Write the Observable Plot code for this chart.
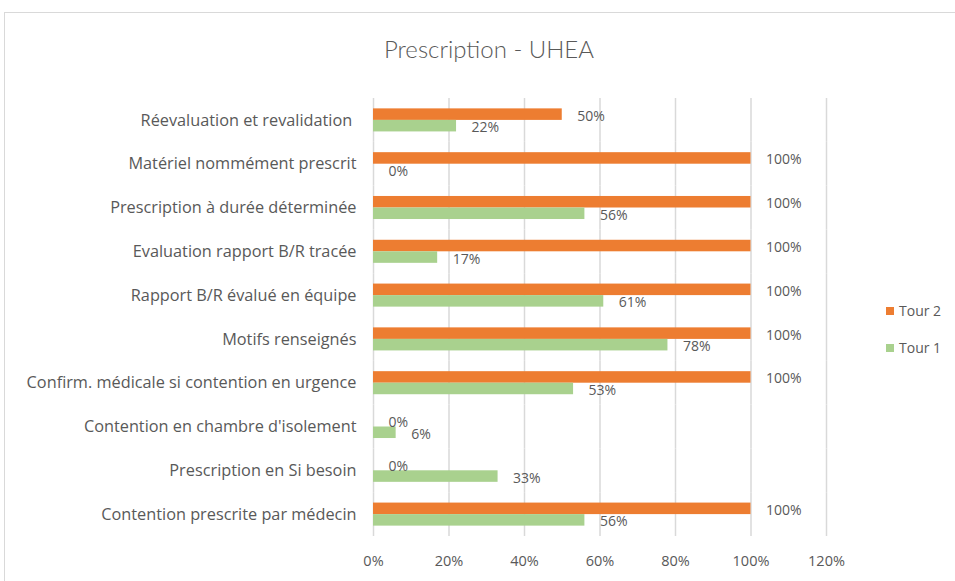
<!DOCTYPE html>
<html>
<head>
<meta charset="utf-8">
<script src="https://cdn.jsdelivr.net/npm/d3@7"></script>
<script src="https://cdn.jsdelivr.net/npm/@observablehq/plot@0.6"></script>
<style>
  html, body { margin: 0; padding: 0; background: #fff; overflow: hidden; }
  #wrap { position: relative; width: 955px; height: 581px; }
  #frame { position: absolute; left: 4px; top: 12px; width: 1000px; height: 600px; border: 1px solid #d9d9d9; box-sizing: border-box; }
  #title { position: absolute; left: 0; width: 978px; top: 34px; text-align: center; font-family: Lato, sans-serif; font-weight: 300; font-size: 24px; color: #595959; }
  #chart { position: absolute; left: 0; top: 0; }
  .leg { position: absolute; font-family: "Open Sans", sans-serif; font-size: 14px; color: #595959; display: flex; align-items: center; }
  .sw { width: 8px; height: 8px; margin-right: 5px; }
</style>
</head>
<body>
<div id="wrap">
  <div id="frame"></div>
  <div id="chart"></div>
  <div id="title"></div>
  <div id="legend"></div>
</div>
<script>
const title = "Prescription - UHEA";
const categories = [
  "Réevaluation et revalidation ",
  "Matériel nommément prescrit",
  "Prescription à durée déterminée",
  "Evaluation rapport B/R tracée",
  "Rapport B/R évalué en équipe",
  "Motifs renseignés",
  "Confirm. médicale si contention en urgence",
  "Contention en chambre d'isolement",
  "Prescription en Si besoin",
  "Contention prescrite par médecin"
];
const seriesNames = ["Tour 2", "Tour 1"];
const seriesColors = ["#ED7D31", "#A9D18E"];
const tour2 = [0.50, 1.00, 1.00, 1.00, 1.00, 1.00, 1.00, 0.00, 0.00, 1.00];
const tour1 = [0.22, 0.00, 0.56, 0.17, 0.61, 0.78, 0.53, 0.06, 0.33, 0.56];
const xTicks = [0, 0.2, 0.4, 0.6, 0.8, 1.0, 1.2];

const data = [];
categories.forEach((c, i) => {
  data.push({cat: c, series: seriesNames[0], value: tour2[i]});
  data.push({cat: c, series: seriesNames[1], value: tour1[i]});
});

const fmt = v => Math.round(v * 100) + "%";

const chart = Plot.plot({
  width: 955,
  height: 581,
  marginLeft: 373,
  marginRight: 129,
  marginTop: 98,
  marginBottom: 45,
  style: {fontFamily: "'Open Sans', sans-serif", color: "#595959", background: "transparent"},
  x: {domain: [0, 1.2], axis: null},
  y: {domain: seriesNames, paddingInner: 0, paddingOuter: 0.9, round: false, axis: null},
  fy: {domain: categories, padding: 0, round: false, label: null},
  color: {domain: seriesNames, range: seriesColors},
  marks: [
    Plot.ruleX(xTicks, {stroke: "#d9d9d9", strokeWidth: 1.5}),
    Plot.barX(data, {fy: "cat", y: "series", x: "value", fill: "series"}),
    Plot.text(data, {fy: "cat", y: "series", x: "value", text: d => fmt(d.value), dx: 15, dy: 1.5, textAnchor: "start", fontSize: 14, fill: "#595959"}),
    Plot.axisFy({anchor: "left", tickSize: 0, tickPadding: 17, fontSize: 16.3, label: null, fill: "#595959"}),
    Plot.axisX({ticks: xTicks, tickFormat: fmt, tickSize: 0, tickPadding: 19, fontSize: 14.5, label: null, fill: "#595959", facetAnchor: "bottom"})
  ]
});
document.getElementById("chart").appendChild(chart);
document.getElementById("title").textContent = title;

const legend = document.getElementById("legend");
const legendOrder = [0, 1];
legendOrder.forEach((k, j) => {
  const d = document.createElement("div");
  d.className = "leg";
  d.style.left = "886px";
  d.style.top = (301 + j * 37) + "px";
  const sw = document.createElement("div");
  sw.className = "sw";
  sw.style.background = seriesColors[k];
  d.appendChild(sw);
  d.appendChild(document.createTextNode(seriesNames[k]));
  legend.appendChild(d);
});
</script>
</body>
</html>
